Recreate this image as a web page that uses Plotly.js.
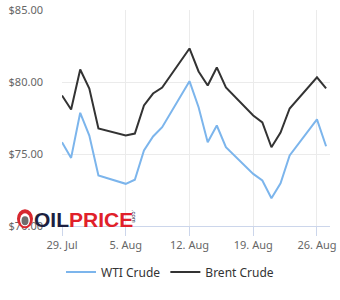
<!DOCTYPE html>
<html>
<head>
<meta charset="utf-8">
<script src="https://cdn.plot.ly/plotly-3.0.1.min.js"></script>
<style>
html,body{margin:0;padding:0;background:#fff;}
#chart{width:340px;height:300px;}
</style>
</head>
<body>
<div id="chart"></div>
<script>
// Trading days
const dates = [
  '2024-07-29','2024-07-30','2024-07-31','2024-08-01','2024-08-02',
  '2024-08-05','2024-08-06','2024-08-07','2024-08-08','2024-08-09',
  '2024-08-12','2024-08-13','2024-08-14','2024-08-15','2024-08-16',
  '2024-08-19','2024-08-20','2024-08-21','2024-08-22','2024-08-23',
  '2024-08-26','2024-08-27'
];
const wtiValues = [
  75.82, 74.73, 77.86, 76.28, 73.51,
  72.93, 73.21, 75.24, 76.22, 76.86,
  80.06, 78.25, 75.82, 76.98, 75.47,
  73.62, 73.16, 71.93, 72.97, 74.90,
  77.40, 75.54
];
const brentValues = [
  79.06, 78.09, 80.87, 79.55, 76.77,
  76.28, 76.42, 78.37, 79.20, 79.62,
  82.33, 80.73, 79.76, 81.01, 79.62,
  77.67, 77.19, 75.47, 76.49, 78.16,
  80.33, 79.55
];
const xTickVals = ['2024-07-29','2024-08-05','2024-08-12','2024-08-19','2024-08-26'];
const xTickText = ['29. Jul','5. Aug','12. Aug','19. Aug','26. Aug'];
const yTickVals = [70, 75, 80, 85];
const yTickText = ['$70.00','$75.00','$80.00','$85.00'];

// plot area pixel geometry (for logo placement)
const L = 62, R = 330, T = 9.5, B = 225.7;
const px = x => (x - L) / (R - L);
const py = y => (B - y) / (B - T);

const traces = [
  {x: dates, y: wtiValues, name: 'WTI Crude', type: 'scatter', mode: 'lines',
   line: {color: '#7cb5ec', width: 2}, hoverinfo: 'skip'},
  {x: dates, y: brentValues, name: 'Brent Crude', type: 'scatter', mode: 'lines',
   line: {color: '#333333', width: 2}, hoverinfo: 'skip'}
];

const layout = {
  width: 340, height: 300,
  margin: {l: L, r: 340 - R, t: T, b: 300 - B},
  paper_bgcolor: '#ffffff', plot_bgcolor: '#ffffff',
  font: {family: '"Noto Sans", "Open Sans", sans-serif', size: 11, color: '#666666'},
  showlegend: true,
  legend: {
    orientation: 'h', xref: 'container', yref: 'container',
    x: 0.5, xanchor: 'center', y: (300 - 272) / 300, yanchor: 'middle',
    font: {size: 12, color: '#333333'}, itemwidth: 30, bgcolor: 'rgba(0,0,0,0)'
  },
  xaxis: {
    type: 'date',
    range: ['2024-07-29', '2024-08-27 10:20'],
    tickvals: xTickVals, ticktext: xTickText,
    showgrid: true, gridcolor: '#ebebeb', gridwidth: 1,
    showline: true, linecolor: '#ccd6eb', linewidth: 1,
    ticks: 'outside', ticklen: 9, tickcolor: '#ccd6eb', tickwidth: 1,
    tickfont: {size: 11, color: '#666666'},
    zeroline: false, fixedrange: true
  },
  yaxis: {
    range: [70, 85],
    tickvals: yTickVals, ticktext: yTickText,
    showgrid: true, gridcolor: '#ebebeb', gridwidth: 1,
    showline: false, ticks: '', zeroline: false,
    ticklabelstandoff: 18,
    tickfont: {size: 11, color: '#666666'},
    fixedrange: true
  },
  shapes: [
    {type: 'circle', xref: 'paper', yref: 'paper', layer: 'above',
     x0: px(17), x1: px(33), y0: py(228), y1: py(209),
     fillcolor: '#d7282f', line: {width: 0}},
    {type: 'circle', xref: 'paper', yref: 'paper', layer: 'above',
     x0: px(20), x1: px(30), y0: py(226), y1: py(213),
     fillcolor: '#ffffff', line: {width: 0}},
    {type: 'circle', xref: 'paper', yref: 'paper', layer: 'above',
     x0: px(21.5), x1: px(28.5), y0: py(225), y1: py(216),
     fillcolor: '#6d6d6d', line: {width: 0}}
  ],
  annotations: [
    {xref: 'paper', yref: 'paper', x: px(32), y: py(219), xanchor: 'left', yanchor: 'middle',
     showarrow: false,
     text: '<b><span style="color:#1c1f40">OIL</span><span style="color:#e0202a">PRICE</span></b>',
     font: {family: '"Liberation Sans", Arial, sans-serif', size: 21}},
    {xref: 'paper', yref: 'paper', x: px(134), y: py(215.5), xanchor: 'center', yanchor: 'middle',
     showarrow: false, textangle: 90,
     text: '.com', font: {family: '"Liberation Sans", Arial, sans-serif', size: 6, color: '#1c1f40'}}
  ]
};

Plotly.newPlot('chart', traces, layout, {displayModeBar: false, staticPlot: true});
</script>
</body>
</html>
